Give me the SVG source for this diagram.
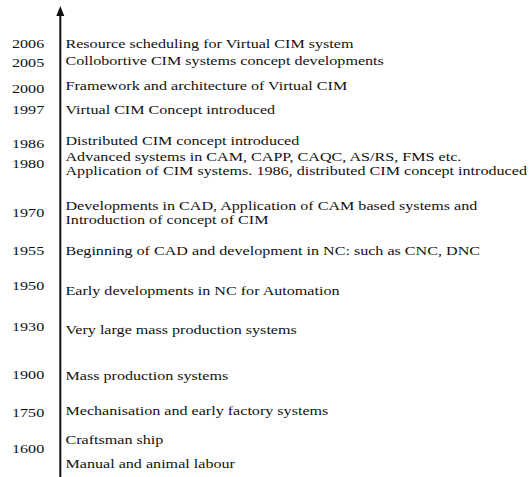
<svg xmlns="http://www.w3.org/2000/svg" width="530" height="477" viewBox="0 0 530 477">
<style>
text{font-family:"Liberation Serif","Times New Roman",serif;font-size:13px;fill:#111}
.axis{stroke:#111;stroke-width:2;fill:none}
.head{fill:#111}
</style>
<rect width="530" height="477" fill="#fff"/>
<g id="connectors">
<line class="axis" x1="60.3" y1="477" x2="60.3" y2="14"/>
<polygon class="head" points="60.3,6 64.3,16 56.3,16"/>
</g>
<g transform="scale(1.24 1)">
<g id="e2006"><text x="9.7" y="48">2006</text><text x="52.8" y="48">Resource scheduling for Virtual CIM system</text></g>
<g id="e2005"><text x="9.7" y="67">2005</text><text x="52.8" y="65">Collobortive CIM systems concept developments</text></g>
<g id="e2000"><text x="9.7" y="93">2000</text><text x="52.8" y="90">Framework and architecture of Virtual CIM</text></g>
<g id="e1997"><text x="9.7" y="114">1997</text><text x="52.8" y="114">Virtual CIM Concept introduced</text></g>
<g id="e1986"><text x="9.7" y="148">1986</text><text x="52.8" y="145">Distributed CIM concept introduced</text></g>
<g id="e1980"><text x="9.7" y="168">1980</text><text x="52.8" y="161">Advanced systems in CAM, CAPP, CAQC, AS/RS, FMS etc.</text><text x="52.8" y="175">Application of CIM systems. 1986, distributed CIM concept introduced</text></g>
<g id="e1970"><text x="9.7" y="217">1970</text><text x="52.8" y="210">Developments in CAD, Application of CAM based systems and</text><text x="52.8" y="224">Introduction of concept of CIM</text></g>
<g id="e1955"><text x="9.7" y="255">1955</text><text x="52.8" y="255">Beginning of CAD and development in NC: such as CNC, DNC</text></g>
<g id="e1950"><text x="9.7" y="290">1950</text><text x="52.8" y="295">Early developments in NC for Automation</text></g>
<g id="e1930"><text x="9.7" y="331">1930</text><text x="52.8" y="334">Very large mass production systems</text></g>
<g id="e1900"><text x="9.7" y="379">1900</text><text x="52.8" y="380">Mass production systems</text></g>
<g id="e1750"><text x="9.7" y="417">1750</text><text x="52.8" y="415">Mechanisation and early factory systems</text></g>
<g id="e1600"><text x="9.7" y="453">1600</text><text x="52.8" y="444">Craftsman ship</text><text x="52.8" y="468">Manual and animal labour</text></g>
</g>
</svg>
